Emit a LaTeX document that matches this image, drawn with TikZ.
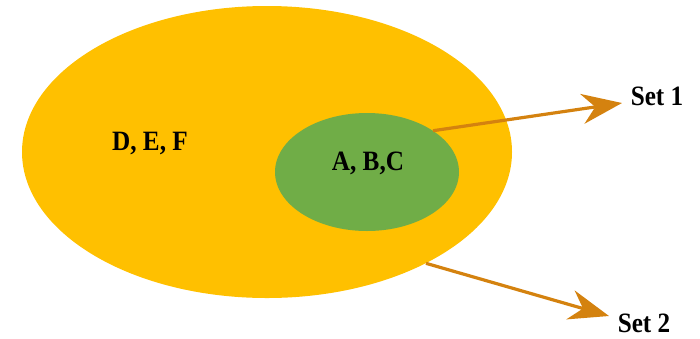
\documentclass[tikz,border=0pt]{standalone}
\usepackage{fontspec}
\setmainfont{Liberation Serif}[FakeStretch=0.9]
\usepackage{xcolor}
\usepackage{tikz}
\usetikzlibrary{arrows.meta,shapes.geometric}
\definecolor{setgold}{HTML}{FFC000}
\definecolor{setleaf}{HTML}{70AD47}
\definecolor{setrust}{HTML}{D4820F}

\begin{document}
\begin{tikzpicture}[x=1pt,y=-1pt,
  blob/.style={ellipse, inner sep=0pt},
  lbl/.style={font=\bfseries\fontsize{28}{32}\selectfont, text=black},
  pointer/.style={setrust, line width=3.2pt, -{Stealth[length=40pt, width=30pt, inset=13pt]}}]
  \useasboundingbox (0,0) rectangle (700,338);

  \node[blob, fill=setgold, minimum width=490pt, minimum height=292pt] (outer) at (267,152) {};
  \node[blob, fill=setleaf, minimum width=184pt, minimum height=118pt] (inner) at (367,172) {};

  \node[lbl] (def) at (150,143) {D, E, F};
  \node[lbl] (abc) at (368,163) {A, B,C};
  \node[lbl] (set1) at (657,96) {Set 1};
  \node[lbl] (set2) at (644,323) {Set 2};

  \coordinate (tip1) at (622,103);
  \coordinate (tip2) at (609,316);
  \draw[pointer] (inner.32) -- (tip1);
  \draw[pointer] (outer.-35) -- (tip2);
\end{tikzpicture}
\end{document}
